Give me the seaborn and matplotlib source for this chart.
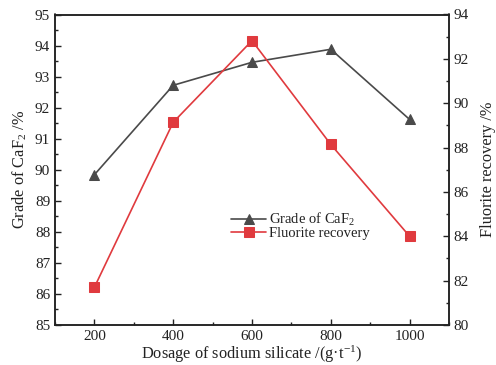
import matplotlib
matplotlib.use("Agg")
import matplotlib.pyplot as plt
import seaborn as sns
import pandas as pd
from matplotlib.ticker import MultipleLocator

dosage = [200, 400, 600, 800, 1000]
grade = [89.84, 92.72, 93.46, 93.88, 91.62]
recovery = [81.7, 89.14, 92.82, 88.14, 84.0]

df = pd.DataFrame({"dosage": dosage, "grade": grade, "recovery": recovery})

sns.set_style("ticks")
plt.rcParams["font.family"] = ["Liberation Serif", "DejaVu Serif"]
plt.rcParams["mathtext.fontset"] = "custom"
plt.rcParams["mathtext.rm"] = "Liberation Serif"
plt.rcParams["mathtext.it"] = "Liberation Serif:italic"

fig = plt.figure(figsize=(4.96, 3.65), dpi=100)
ax = fig.add_axes([55/496, 1-325/365, 394/496, 310.5/365])
ax2 = ax.twinx()

gray = "#4a4a4a"
red = "#e03a3e"

sns.lineplot(data=df, x="dosage", y="grade", ax=ax, color=gray, marker="^",
             markersize=7, markeredgecolor=gray, linewidth=1.2,
             label="Grade of CaF$_2$", legend=False)
sns.lineplot(data=df, x="dosage", y="recovery", ax=ax2, color=red, marker="s",
             markersize=6.5, markeredgecolor=red, linewidth=1.2,
             label="Fluorite recovery", legend=False)

ax.set_xlim(100, 1100)
ax.set_ylim(85, 95)
ax2.set_ylim(80, 94)
ax.set_xticks([200, 400, 600, 800, 1000])
ax.xaxis.set_minor_locator(MultipleLocator(100))
ax.yaxis.set_major_locator(MultipleLocator(1))
ax.yaxis.set_minor_locator(MultipleLocator(0.5))
ax2.yaxis.set_major_locator(MultipleLocator(2))
ax2.yaxis.set_minor_locator(MultipleLocator(1))

fs = 11
lfs = 11.8
for a in (ax, ax2):
    a.tick_params(which="major", direction="in", length=4.5, width=1, labelsize=fs, colors="#222222")
    a.tick_params(which="minor", direction="in", length=2.5, width=1, colors="#222222")
    for s in a.spines.values():
        s.set_linewidth(1.1)
        s.set_color("#222222")
        s.set_visible(True)
ax.tick_params(axis="y", which="both", right=False)
ax.tick_params(axis="x", which="both", top=False)
ax2.tick_params(axis="y", which="both", left=False, right=True)

ax.set_xlabel("Dosage of sodium silicate /(g·t$^{-1}$)", fontsize=lfs, labelpad=0.5, color="#222222")
ax.set_ylabel("Grade of CaF$_2$ /%", fontsize=lfs, labelpad=4, color="#222222")
ax2.set_ylabel("Fluorite recovery /%", fontsize=lfs, labelpad=8, color="#222222")

h1, l1 = ax.get_legend_handles_labels()
h2, l2 = ax2.get_legend_handles_labels()
leg = ax2.legend(h1 + h2, l1 + l2, loc="upper left", bbox_to_anchor=(0.447, 0.368),
                 frameon=False, fontsize=10.5, handlelength=2.4, handletextpad=0.2,
                 borderpad=0, labelspacing=-0.05, borderaxespad=0)
for t in leg.get_texts():
    t.set_color("#222222")

fig.savefig("out.png", dpi=100)
